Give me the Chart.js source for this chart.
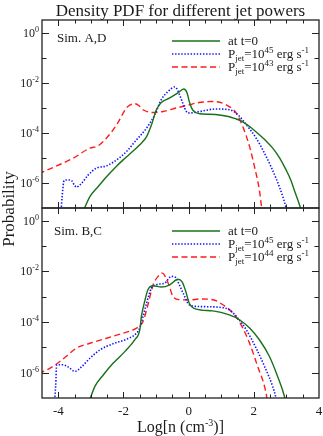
<!DOCTYPE html>
<html><head><meta charset="utf-8">
<script src="https://cdn.jsdelivr.net/npm/chart.js@4.4.0/dist/chart.umd.min.js"></script>
<style>
html,body{margin:0;padding:0;background:#fff;}
#wrap{position:relative;width:323px;height:436px;background:#fff;}
canvas{position:absolute;left:0;top:0;}
</style></head><body>
<div id="wrap"><canvas id="c1" width="323" height="436"></canvas><canvas id="c2" width="323" height="436"></canvas></div>
<script>
// ---------- text ----------
const titleText = 'Density PDF for different jet powers';
const yAxisTitle = 'Probability';
const xAxisTitleBase = 'Log[n (cm';
const xAxisTitleSup = '-3';
const xAxisTitleEnd = ')]';
const xTickValues = [-4, -2, 0, 2, 4];
const xTickLabels = ['-4', '-2', '0', '2', '4'];
const xMinorTickValues = [-4, -3.5, -3, -2.5, -2, -1.5, -1, -0.5, 0, 0.5, 1, 1.5, 2, 2.5, 3, 3.5];
const yTickExponents = [0, -2, -4, -6];
const yDecadeExponents = [0, -1, -2, -3, -4, -5, -6];
const topPanelLabel = 'Sim. A,D';
const bottomPanelLabel = 'Sim. B,C';
const legendT0 = 'at t=0';
const topLegendPowers = ['45', '43'];
const bottomLegendPowers = ['45', '44'];

// ---------- data: x = log10 n, values = log10 probability ----------
const topT0X =    [-3.26,-3.03,-2.78,-2.52,-2.25,-2.01,-1.75,-1.5,-1.29,-1.14,-0.99,-0.84,-0.58,-0.33,-0.15,-0.05,0.03,0.13,0.34,0.64,1.0,1.25,1.46,1.61,1.87,2.17,2.38,2.58,2.79,2.99,3.14,3.24,3.42,3.47];
const topT0LogP = [-7.2,-6.55,-6.15,-5.75,-5.38,-5.08,-4.78,-4.48,-4.15,-3.68,-3.08,-2.79,-2.61,-2.41,-2.25,-2.4,-2.8,-3.1,-3.24,-3.26,-3.3,-3.36,-3.45,-3.52,-3.75,-4.08,-4.33,-4.61,-5.0,-5.48,-5.9,-6.28,-6.95,-7.2];
const topP45X =    [-3.92,-3.88,-3.82,-3.7,-3.59,-3.5,-3.44,-3.36,-3.28,-3.08,-2.83,-2.52,-2.21,-1.91,-1.6,-1.29,-1.04,-0.84,-0.63,-0.43,-0.36,-0.28,-0.17,-0.07,0.03,0.34,0.85,1.25,1.51,1.77,2.07,2.38,2.68,2.89,2.99,3.02];
const topP45LogP = [-7.2,-6.5,-5.9,-5.88,-5.91,-6.1,-6.17,-6.1,-6.01,-5.68,-5.41,-5.32,-5.08,-4.75,-4.28,-3.81,-3.28,-2.68,-2.35,-2.17,-2.25,-2.48,-2.85,-3.15,-3.21,-3.15,-3.05,-3.08,-3.28,-3.68,-4.21,-4.95,-5.81,-6.55,-7.0,-7.2];
const topP43X =    [-4.6,-4.05,-3.54,-3.03,-2.78,-2.52,-2.21,-1.91,-1.78,-1.65,-1.52,-1.4,-1.09,-0.79,-0.38,0.03,0.24,0.74,1.15,1.46,1.66,1.87,2.02,2.17,2.24,2.26];
const topP43LogP = [-5.63,-5.32,-5.01,-4.61,-4.52,-4.21,-3.68,-3.01,-2.88,-2.84,-2.92,-3.08,-3.19,-3.15,-3.01,-2.88,-2.81,-2.75,-2.88,-3.21,-3.75,-4.55,-5.35,-6.28,-7.0,-7.2];

const botT0X =    [-3.07,-2.88,-2.62,-2.32,-1.96,-1.65,-1.5,-1.45,-1.35,-1.25,-1.09,-0.84,-0.58,-0.33,-0.2,-0.1,0.03,0.24,0.74,1.25,1.56,1.87,2.17,2.48,2.73,2.94,2.98];
const botT0LogP = [-7.2,-6.55,-6.09,-5.63,-5.17,-4.70,-4.31,-3.78,-3.19,-2.73,-2.57,-2.62,-2.53,-2.31,-2.42,-2.75,-3.29,-3.49,-3.56,-3.72,-3.91,-4.24,-4.70,-5.36,-6.15,-6.94,-7.2];
const botP45X =    [-4.12,-4.08,-4.05,-3.85,-3.69,-3.49,-3.28,-3.03,-2.72,-2.32,-1.91,-1.6,-1.5,-1.4,-1.29,-1.14,-0.99,-0.73,-0.53,-0.4,-0.28,-0.17,0.03,0.34,0.95,1.25,1.51,1.77,2.07,2.33,2.58,2.68,2.71];
const botP45LogP = [-7.2,-6.5,-5.69,-5.69,-5.78,-5.95,-5.76,-5.43,-5.10,-4.86,-4.68,-4.44,-4.24,-3.78,-3.25,-2.66,-2.53,-2.46,-2.20,-2.24,-2.55,-2.86,-3.33,-3.39,-3.42,-3.52,-3.85,-4.31,-5.03,-5.76,-6.55,-7.0,-7.2];
const botP44X =    [-4.6,-4.25,-3.95,-3.74,-3.44,-3.03,-2.52,-2.01,-1.55,-1.4,-1.25,-1.09,-0.94,-0.81,-0.63,-0.48,-0.28,0.03,0.34,0.74,1.05,1.36,1.61,1.87,2.12,2.33,2.40,2.42];
const botP44LogP = [-6.03,-5.82,-5.56,-5.34,-5.03,-4.84,-4.64,-4.44,-4.2,-3.98,-3.32,-2.53,-2.20,-2.07,-2.46,-2.99,-3.12,-3.13,-3.09,-3.12,-3.32,-3.65,-4.11,-4.84,-5.76,-6.55,-7.0,-7.2];

// ---------- styles ----------
const SERIF = '"Liberation Serif", "DejaVu Serif", serif';
const TXT = '#1a1a1a';
const GREEN = '#17701a';
const BLUE = '#1010ff';
const RED = '#ff1a1a';
const styleT0 = {color: GREEN, width: 1.4, dash: []};
const styleBlue = {color: BLUE, width: 1.6, dash: [1.4, 1.7]};
const styleRed = {color: RED, width: 1.4, dash: [6, 3.5]};

function toPoints(xs, logs) { return xs.map((x, i) => ({x: x, y: Math.pow(10, logs[i])})); }
function ds(xs, logs, st) {
  return {data: toPoints(xs, logs), borderColor: st.color, borderWidth: st.width, borderDash: st.dash,
          pointRadius: 0, fill: false, cubicInterpolationMode: 'monotone', borderCapStyle: 'butt'};
}

function font(sz) { return sz + 'px ' + SERIF; }
function line(ctx, x1, y1, x2, y2) { ctx.beginPath(); ctx.moveTo(x1, y1); ctx.lineTo(x2, y2); ctx.stroke(); }

// draws sequence of [text, size, dy] pieces from x at baseline y
function drawPieces(ctx, pieces, x, y) {
  let cx = x;
  for (const p of pieces) {
    ctx.font = font(p[1]);
    ctx.fillText(p[0], cx, y + p[2]);
    cx += ctx.measureText(p[0]).width;
  }
  return cx;
}
function piecesWidth(ctx, pieces) {
  let w = 0;
  for (const p of pieces) { ctx.font = font(p[1]); w += ctx.measureText(p[0]).width; }
  return w;
}

const panelPlugin = {
  id: 'panel',
  afterDraw(chart, args, o) {
    const ctx = chart.ctx, a = chart.chartArea, xs = chart.scales.x, ys = chart.scales.y;
    ctx.save();
    ctx.fillStyle = TXT; ctx.strokeStyle = '#222';
    ctx.setLineDash([]);
    // frame
    ctx.lineWidth = 1.3;
    ctx.strokeRect(a.left, a.top, a.right - a.left, a.bottom - a.top);
    // x ticks (inward, top and bottom)
    ctx.lineWidth = 1;
    for (const v of xMinorTickValues) {
      const px = Math.round(xs.getPixelForValue(v)) + 0.5;
      const len = xTickValues.includes(v) ? 6 : 3.5;
      line(ctx, px, a.bottom, px, a.bottom - len);
      line(ctx, px, a.top, px, a.top + len);
    }
    // y ticks (inward, left and right)
    for (const e of yDecadeExponents) {
      const py = Math.round(ys.getPixelForValue(Math.pow(10, e))) + 0.5;
      const len = yTickExponents.includes(e) ? 7 : 4.5;
      line(ctx, a.left, py, a.left + len, py);
      line(ctx, a.right, py, a.right - len, py);
    }
    // y tick labels
    ctx.textBaseline = 'alphabetic'; ctx.textAlign = 'left';
    for (const e of yTickExponents) {
      const py = ys.getPixelForValue(Math.pow(10, e));
      const pieces = [['10', 12, 0], [String(e), 8, -5]];
      const w = piecesWidth(ctx, pieces);
      drawPieces(ctx, pieces, a.left - 3 - w, py + 4);
    }
    // panel label
    ctx.font = font(13);
    ctx.fillText(o.label, o.labelX, o.labelY);
    // legend
    const rows = o.legend;
    for (let i = 0; i < rows.length; i++) {
      const r = rows[i];
      const yy = o.legY + i * 13;
      ctx.strokeStyle = r.style.color; ctx.lineWidth = r.style.width; ctx.setLineDash(r.style.dash);
      line(ctx, 172, yy, 220, yy);
      ctx.setLineDash([]);
      ctx.fillStyle = TXT;
      drawPieces(ctx, r.pieces, 228, yy + 4);
    }
    ctx.restore();
  }
};

function jetPieces(pw) {
  return [['P', 13, 0], ['jet', 9, 3], ['=10', 13, 0], [pw, 9, -5], [' erg s', 13, 0], ['-1', 9, -5]];
}

function makePanel(id, padTop, padBottom, datasets, opts) {
  return new Chart(document.getElementById(id), {
    type: 'line',
    data: {datasets: datasets},
    options: {
      responsive: false, animation: false, devicePixelRatio: 1,
      layout: {padding: {left: 42, right: 4, top: padTop, bottom: padBottom}},
      scales: {
        x: {type: 'linear', min: -4.5, max: 4, display: false},
        y: {type: 'logarithmic', min: 1e-7, max: Math.pow(10, 0.5), display: false}
      },
      plugins: {legend: {display: false}, tooltip: {enabled: false}, title: {display: false}, panel: opts},
      events: []
    },
    plugins: [panelPlugin]
  });
}

const topChart = makePanel('c1', 20, 228, [
  ds(topT0X, topT0LogP, styleT0), ds(topP45X, topP45LogP, styleBlue), ds(topP43X, topP43LogP, styleRed)
], {label: topPanelLabel, labelX: 57, labelY: 42, legY: 41, legend: [
  {style: styleT0, pieces: [[legendT0, 13, 0]]},
  {style: styleBlue, pieces: jetPieces(topLegendPowers[0])},
  {style: styleRed, pieces: jetPieces(topLegendPowers[1])}
]});

const botChart = makePanel('c2', 208, 38, [
  ds(botT0X, botT0LogP, styleT0), ds(botP45X, botP45LogP, styleBlue), ds(botP44X, botP44LogP, styleRed)
], {label: bottomPanelLabel, labelX: 54, labelY: 235, legY: 231, legend: [
  {style: styleT0, pieces: [[legendT0, 13, 0]]},
  {style: styleBlue, pieces: jetPieces(bottomLegendPowers[0])},
  {style: styleRed, pieces: jetPieces(bottomLegendPowers[1])}
]});

// global texts drawn with the bottom chart's scales
const outerPlugin = {
  id: 'outer',
  afterDraw(chart) {
    const ctx = chart.ctx, a = chart.chartArea, xs = chart.scales.x;
    ctx.save();
    ctx.fillStyle = TXT;
    // x tick labels
    ctx.font = font(13); ctx.textAlign = 'center'; ctx.textBaseline = 'alphabetic';
    xTickValues.forEach((v, i) => ctx.fillText(xTickLabels[i], xs.getPixelForValue(v), a.bottom + 17));
    // x title
    ctx.textAlign = 'left';
    const pcs = [[xAxisTitleBase, 16, 0], [xAxisTitleSup, 10, -6], [xAxisTitleEnd, 16, 0]];
    const w = piecesWidth(ctx, pcs);
    drawPieces(ctx, pcs, (a.left + a.right) / 2 - w / 2, 432);
    // title
    ctx.font = font(17); ctx.textAlign = 'center';
    ctx.fillText(titleText, (a.left + a.right) / 2, 16);
    // y title
    ctx.translate(14, 209); ctx.rotate(-Math.PI / 2);
    ctx.font = font(17); ctx.textAlign = 'center';
    ctx.fillText(yAxisTitle, 0, 0);
    ctx.restore();
  }
};
botChart.config.plugins.push(outerPlugin);
botChart.update();
</script>
</body></html>
